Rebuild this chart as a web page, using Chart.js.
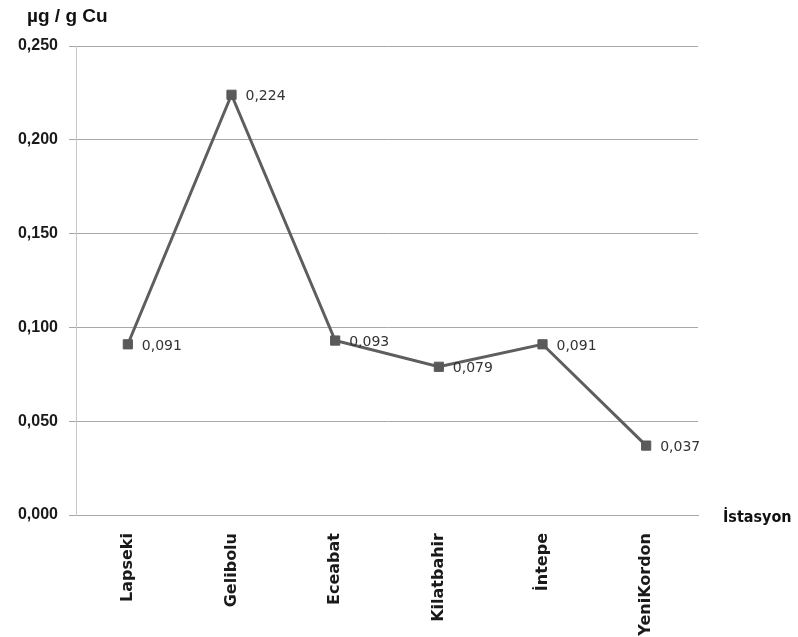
<!DOCTYPE html>
<html>
<head>
<meta charset="utf-8">
<script src="https://cdn.jsdelivr.net/npm/chart.js@4/dist/chart.umd.min.js"></script>
<style>
  html, body { margin: 0; padding: 0; background: #ffffff; }
  canvas { display: block; }
</style>
</head>
<body>
<canvas id="c" width="798" height="637"></canvas>
<script>
// Stations along the strait and copper concentration (µg / g)
const stations = ['Lapseki', 'Gelibolu', 'Eceabat', 'Kilatbahir', 'İntepe', 'YeniKordon'];
const cuValues = [0.091, 0.224, 0.093, 0.079, 0.091, 0.037];
const yTickLabels = ['0,000', '0,050', '0,100', '0,150', '0,200', '0,250'];
const yAxisTitle = 'µg / g Cu';
const xAxisTitle = 'İstasyon';

const fmt = v => v.toFixed(3).replace('.', ',');

// Value labels next to each marker, plus the two axis captions
const annotate = {
  id: 'annotate',
  afterDatasetsDraw(chart) {
    const ctx = chart.ctx;
    const meta = chart.getDatasetMeta(0);
    ctx.save();
    ctx.font = '14px "DejaVu Sans"';
    ctx.fillStyle = '#333333';
    ctx.textAlign = 'left';
    ctx.textBaseline = 'middle';
    meta.data.forEach((pt, i) => {
      ctx.fillText(fmt(cuValues[i]), pt.x + 14, pt.y + 2);
    });
    ctx.restore();
  },
  afterDraw(chart) {
    const ctx = chart.ctx;
    const area = chart.chartArea;
    ctx.save();
    ctx.fillStyle = '#111111';
    ctx.textBaseline = 'middle';
    ctx.textAlign = 'left';
    ctx.font = 'bold 19px "Liberation Sans"';
    ctx.fillText(yAxisTitle, 27, 17);
    ctx.font = 'bold 16px "DejaVu Sans Condensed", "DejaVu Sans"';
    ctx.fillText(xAxisTitle, area.right + 25, area.bottom + 3);
    ctx.restore();
  }
};

new Chart(document.getElementById('c'), {
  type: 'line',
  data: {
    labels: stations,
    datasets: [{
      data: cuValues,
      borderColor: '#5e5e5e',
      borderWidth: 3,
      pointStyle: 'rect',
      pointRadius: 6.5,
      pointBackgroundColor: '#5a5a5a',
      pointBorderColor: '#5a5a5a',
      pointBorderWidth: 1,
      tension: 0,
      fill: false
    }]
  },
  options: {
    responsive: false,
    animation: false,
    layout: { padding: { top: 46, right: 100, bottom: 0, left: 0 } },
    plugins: {
      legend: { display: false },
      tooltip: { enabled: false }
    },
    scales: {
      x: {
        offset: true,
        grid: { display: false, drawTicks: false },
        border: { display: true, color: '#a8a8a8', width: 1 },
        ticks: {
          minRotation: 90,
          maxRotation: 90,
          padding: 18,
          color: '#1a1a1a',
          font: { family: '"DejaVu Sans"', size: 16, weight: 'bold' }
        },
        afterFit(scale) { scale.height = 122; }
      },
      y: {
        min: 0,
        max: 0.25,
        ticks: {
          stepSize: 0.05,
          padding: 11,
          color: '#1a1a1a',
          font: { family: '"Liberation Sans"', size: 16, weight: 'bold' },
          callback: (v, i) => yTickLabels[i]
        },
        grid: { color: '#a8a8a8', lineWidth: 1, tickLength: 7, drawTicks: true },
        border: { display: true, color: '#c8c8c8', width: 1 },
        afterFit(scale) { scale.width = 76; }
      }
    }
  },
  plugins: [annotate]
});
</script>
</body>
</html>
